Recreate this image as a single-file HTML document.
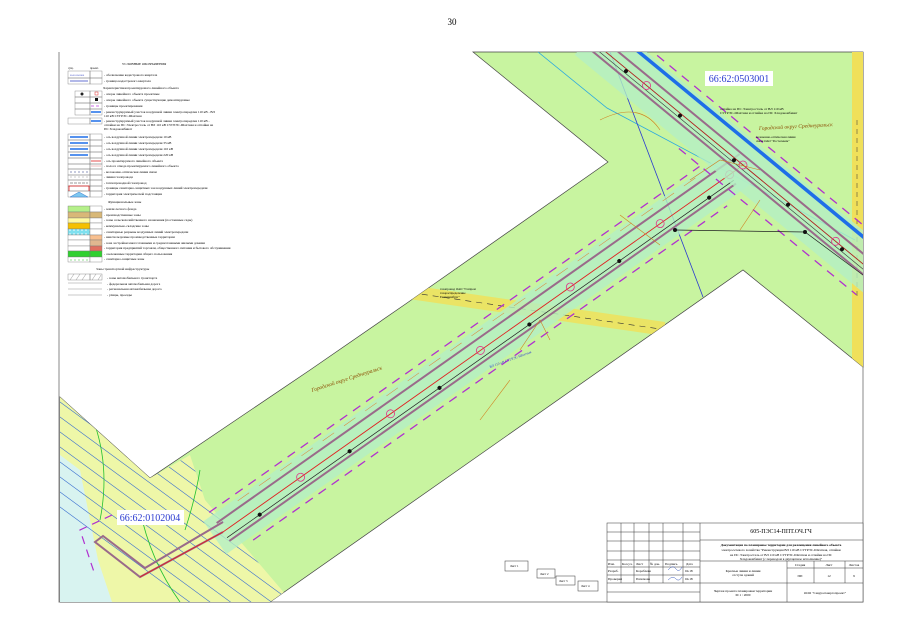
<!DOCTYPE html>
<html><head><meta charset="utf-8"><style>
html,body{margin:0;padding:0;background:#fff;width:905px;height:640px;overflow:hidden;}
svg{display:block;}
text{font-family:"Liberation Serif",serif;}
</style></head><body>
<svg width="905" height="640" viewBox="0 0 905 640" xmlns="http://www.w3.org/2000/svg">
<defs>
<clipPath id="g"><polygon points="473,52 863,52 863,367 743,270 270,602 60,602 60,397 150,478 310,370 407,303 608,162"/></clipPath>
<clipPath id="ll"><polygon points="60,397 150,478 190,455 205,500 292,602 60,602"/></clipPath>
<pattern id="dots" width="4" height="4" patternUnits="userSpaceOnUse"><rect width="4" height="4" fill="#7fe0ef"/><circle cx="2" cy="2" r="0.8" fill="#fff"/></pattern>
</defs>
<rect width="905" height="640" fill="#fff"/>
<text x="452" y="25" font-size="9" text-anchor="middle">30</text>

<polyline points="59,52 59,602 863,602 863,52" fill="none" stroke="#888" stroke-width="1"/>

<polygon points="473,52 863,52 863,367 743,270 270,602 60,602 60,397 150,478 310,370 407,303 608,162" fill="#c8f4a0" stroke="#444" stroke-width="0.7"/>
<g clip-path="url(#g)">
  <polygon points="60,397 150,478 190,455 205,500 292,602 60,602" fill="#eef7a8"/>
  <polygon points="60,455 80,470 98,560 112,602 60,602" fill="#d8f3f0"/>
  <g clip-path="url(#ll)" stroke="#3a6fd0" stroke-width="0.6" fill="none">
    <line x1="30" y1="380" x2="330" y2="600"/><line x1="30" y1="395" x2="330" y2="615"/>
    <line x1="30" y1="410" x2="330" y2="630"/><line x1="30" y1="425" x2="330" y2="645"/>
    <line x1="30" y1="440" x2="330" y2="660"/><line x1="30" y1="455" x2="330" y2="675"/>
    <line x1="30" y1="470" x2="330" y2="690"/><line x1="30" y1="365" x2="330" y2="585"/>
    <line x1="30" y1="350" x2="330" y2="570"/><line x1="30" y1="485" x2="330" y2="705"/>
  </g>
  <g stroke="#22c030" stroke-width="0.8" fill="none">
    <path d="M95,425 Q110,470 100,520"/><path d="M140,510 Q150,560 180,602"/><path d="M200,470 Q195,500 185,530"/>
  </g>
  <polygon points="395,283 665,322 665,336 395,297" fill="#f0e05a" opacity="0.85"/>
  <line x1="400" y1="291" x2="660" y2="329" stroke="#333" stroke-width="0.6" stroke-dasharray="6,5"/>
  <rect x="852" y="52" width="11" height="315" fill="#f0e05a"/>
  <line x1="857" y1="120" x2="857" y2="300" stroke="#333" stroke-width="0.5" stroke-dasharray="5,4"/>
  <polyline points="538,52 607,108 855,240" fill="none" stroke="#2aa8e0" stroke-width="0.8"/>
  <line x1="610" y1="52" x2="703" y2="297" stroke="#2a3ad0" stroke-width="0.8"/>
  <g transform="translate(223,532) rotate(-35.2)">
    <rect x="-10" y="-20" width="660" height="40" fill="#b4efc4" opacity="0.8"/>
    <line x1="0" y1="-11" x2="640" y2="-11" stroke="#9a6a8a" stroke-width="2"/>
    <line x1="0" y1="11" x2="620" y2="11" stroke="#9a6a8a" stroke-width="2"/>
    <line x1="0" y1="-24" x2="600" y2="-24" stroke="#b030d0" stroke-width="1.3" stroke-dasharray="9,7"/>
    <line x1="20" y1="24" x2="600" y2="24" stroke="#b030d0" stroke-width="1.3" stroke-dasharray="9,7"/>
    <line x1="0" y1="0" x2="640" y2="0" stroke="#e02020" stroke-width="0.9"/>
    <line x1="0" y1="7" x2="620" y2="7" stroke="#222" stroke-width="0.7"/>
    <line x1="30" y1="-17" x2="600" y2="-17" stroke="#e08030" stroke-width="0.5" stroke-dasharray="14,12"/>
    <g fill="#111"><circle cx="40" cy="7" r="2"/><circle cx="150" cy="7" r="2"/><circle cx="260" cy="7" r="2"/><circle cx="370" cy="7" r="2"/><circle cx="480" cy="7" r="2"/><circle cx="590" cy="7" r="2"/></g>
    <g fill="none" stroke="#e0308a" stroke-width="0.8"><circle cx="95" cy="0" r="4"/><circle cx="205" cy="0" r="4"/><circle cx="315" cy="0" r="4"/><circle cx="425" cy="0" r="4"/><circle cx="535" cy="0" r="4"/><circle cx="620" cy="0" r="4"/></g>
  </g>
  <polyline points="223,532 140,577 95,542 103,536 145,568 223,522" fill="none" stroke="#9a6a8a" stroke-width="2"/>
  <line x1="223" y1="532" x2="140" y2="577" stroke="#e02020" stroke-width="0.9"/>
  <polyline points="112,515 80,530 95,575" fill="none" stroke="#b030d0" stroke-width="1.2" stroke-dasharray="8,6"/>
  <g transform="translate(743,165) rotate(39.5)">
    <rect x="-200" y="-26" width="380" height="48" fill="#b4efc4" opacity="0.8"/>
    <line x1="-200" y1="-21" x2="170" y2="-21" stroke="#1e6ee8" stroke-width="3.5"/>
    <line x1="-200" y1="-8" x2="170" y2="-8" stroke="#9a6a8a" stroke-width="2"/>
    <line x1="-200" y1="8" x2="170" y2="8" stroke="#9a6a8a" stroke-width="2"/>
    <line x1="-200" y1="0" x2="170" y2="0" stroke="#b02020" stroke-width="0.9"/>
    <line x1="-200" y1="4" x2="170" y2="4" stroke="#333" stroke-width="0.6"/>
    <line x1="-200" y1="-30" x2="170" y2="-30" stroke="#b030d0" stroke-width="1.3" stroke-dasharray="9,7"/>
    <line x1="-60" y1="28" x2="170" y2="28" stroke="#b030d0" stroke-width="1.3" stroke-dasharray="9,7"/>
    <g fill="#111"><circle cx="-150" cy="2" r="2"/><circle cx="-80" cy="2" r="2"/><circle cx="-10" cy="2" r="2"/><circle cx="60" cy="2" r="2"/><circle cx="130" cy="2" r="2"/></g>
    <g fill="none" stroke="#e0308a" stroke-width="0.8"><circle cx="-125" cy="0" r="4"/><circle cx="0" cy="0" r="4"/><circle cx="120" cy="0" r="4"/></g>
  </g>
  <polyline points="675,230 805,232 863,275" fill="none" stroke="#222" stroke-width="0.7"/>
  <circle cx="675" cy="230" r="2" fill="#111"/><circle cx="805" cy="232" r="2" fill="#111"/>
  <g stroke="#d08020" stroke-width="0.6" fill="none">
    <path d="M600,120 Q640,100 660,130"/><path d="M690,180 l30,-20 l40,10"/><path d="M520,350 l20,-30 l10,20"/><path d="M480,420 l30,-40"/><path d="M620,215 l40,30"/><path d="M760,200 l-20,30"/>
  </g>
</g>
<rect x="705" y="71" width="68" height="15" fill="#fff"/>
<text x="739" y="82" font-size="10" fill="#2a3ad0" text-anchor="middle" font-family="Liberation Sans">66:62:0503001</text>
<rect x="117" y="510" width="67" height="15" fill="#fff"/>
<text x="150" y="521" font-size="10" fill="#2a3ad0" text-anchor="middle" font-family="Liberation Sans">66:62:0102004</text>
<text x="759" y="130" font-size="5.5" fill="#8a4a00" font-style="italic" transform="rotate(-3 759 130)">Городской округ Среднеуральск</text>
<text x="312" y="392" font-size="5.5" fill="#8a4a00" font-style="italic" transform="rotate(-18 312 392)">Городской округ Среднеуральск</text>
<text x="720" y="110" font-size="3.5">отпайка на ПС Электросталь от ВЛ 110 кВ</text>
<text x="720" y="114" font-size="3.5">СУГРЭС-Шахтная и отпайка на ПС Хладокомбинат</text>
<text x="756" y="138" font-size="3.2">волоконно-оптическая линия</text>
<text x="756" y="142" font-size="3.2">связи ОАО "Ростелеком"</text>
<text x="440" y="290" font-size="3.2">газопровод ОАО "Газпром</text>
<text x="440" y="294" font-size="3.2">газораспределение</text>
<text x="440" y="298" font-size="3.2">Екатеринбург"</text>
<text x="490" y="368" font-size="3.5" fill="#2a3ad0" transform="rotate(-20 490 368)">ВЛ 110 кВ СУГРЭС-Шахтная</text>

<g fill="#fff" stroke="#333" stroke-width="0.5" font-size="3">
<rect x="505" y="561" width="23" height="10"/><rect x="537" y="569" width="18" height="9"/><rect x="556" y="576" width="19" height="9"/><rect x="578" y="581" width="20" height="10"/>
</g>
<g font-size="3"><text x="510" y="567">Лист 1</text><text x="540" y="575">Лист 2</text><text x="559" y="582">Лист 3</text><text x="581" y="587">Лист 4</text></g>

<g fill="none" stroke="#333" stroke-width="0.5">
<rect x="607" y="523" width="256" height="79" fill="#fff"/>
<line x1="700" y1="523" x2="700" y2="602"/>
<line x1="621" y1="523" x2="621" y2="583"/><line x1="634" y1="523" x2="634" y2="583"/>
<line x1="649" y1="523" x2="649" y2="583"/><line x1="663" y1="523" x2="663" y2="583"/>
<line x1="683" y1="523" x2="683" y2="583"/>
<line x1="607" y1="532" x2="700" y2="532"/><line x1="607" y1="541" x2="700" y2="541"/>
<line x1="607" y1="551" x2="700" y2="551"/><line x1="607" y1="560" x2="700" y2="560"/>
<line x1="607" y1="567" x2="700" y2="567"/><line x1="607" y1="575" x2="700" y2="575"/>
<line x1="607" y1="583" x2="863" y2="583"/><line x1="607" y1="592" x2="700" y2="592"/>
<line x1="700" y1="540" x2="863" y2="540"/><line x1="700" y1="561" x2="863" y2="561"/>
<line x1="787" y1="561" x2="787" y2="602"/><line x1="814" y1="561" x2="814" y2="583"/><line x1="845" y1="561" x2="845" y2="583"/>
<line x1="787" y1="568" x2="863" y2="568"/>
</g>
<g font-size="3.4">
<text x="781" y="533" font-size="6" text-anchor="middle">605-ПЭС14-ППТ.ОЧ.ГЧ</text>
<text x="781" y="546" text-anchor="middle" font-weight="bold">Документация по планировке территории для размещения линейного объекта</text>
<text x="781" y="551" text-anchor="middle">электросетевого хозяйства "Реконструкция ВЛ 110 кВ СУГРЭС-Шахтная, отпайки</text>
<text x="781" y="556" text-anchor="middle">на ПС Электросталь от ВЛ 110 кВ СУГРЭС-Шахтная и отпайки на ПС</text>
<text x="781" y="560" text-anchor="middle">Хладокомбинат (с переводом в двухцепное исполнение)"</text>
<text x="608" y="565">Изм.</text><text x="622" y="565">Кол.уч.</text><text x="636" y="565">Лист</text><text x="650" y="565">№ док.</text><text x="665" y="565">Подпись</text><text x="686" y="565">Дата</text>
<text x="608" y="572">Разраб.</text><text x="636" y="572">Кораблева</text><text x="685" y="572">04.18</text>
<text x="608" y="580">Проверил</text><text x="636" y="580">Пахомова</text><text x="685" y="580">04.18</text>
<text x="743" y="572" text-anchor="middle">Красные линии и линии</text><text x="743" y="576" text-anchor="middle">отступа зданий</text>
<text x="800" y="566" text-anchor="middle">Стадия</text><text x="829" y="566" text-anchor="middle">Лист</text><text x="854" y="566" text-anchor="middle">Листов</text>
<text x="800" y="577" text-anchor="middle">ПП</text><text x="829" y="577" text-anchor="middle">12</text><text x="854" y="577" text-anchor="middle">9</text>
<text x="743" y="592" text-anchor="middle">Чертеж проекта планировки территории</text><text x="743" y="596" text-anchor="middle">М 1 : 2000</text>
<text x="825" y="594" text-anchor="middle">ООО "Севуралэнергопроект"</text>
</g>
<path d="M668,570 q5,-6 8,-1 q3,4 6,-2 M668,580 q5,-5 8,-1 q3,3 6,-2" stroke="#4060c0" stroke-width="0.5" fill="none"/>

<g font-size="3.4">
<text x="122" y="65">УСЛОВНЫЕ ОБОЗНАЧЕНИЯ</text>
<text x="68" y="69" font-size="2.8">сущ.</text><text x="90" y="69" font-size="2.8">проект.</text>
<g fill="none" stroke="#777" stroke-width="0.4">
<rect x="68" y="71" width="22" height="7"/><rect x="90" y="71" width="12" height="7"/>
<rect x="68" y="78" width="22" height="6"/><rect x="90" y="78" width="12" height="6"/>
</g>
<text x="70" y="76" font-size="2.4" fill="#3040c0">66:62:0503001</text>
<line x1="70" y1="81" x2="88" y2="81" stroke="#3040c0" stroke-width="0.8"/>
<text x="104" y="76">- обозначение кадастрового квартала</text>
<text x="104" y="82">- граница кадастрового квартала</text>
<text x="103" y="89">Характеристики проектируемого линейного объекта</text>
<g fill="none" stroke="#777" stroke-width="0.4">
<rect x="75" y="91" width="15" height="6"/><rect x="90" y="91" width="12" height="6"/>
<rect x="75" y="97" width="15" height="6"/><rect x="90" y="97" width="12" height="6"/>
<rect x="75" y="103" width="15" height="6"/><rect x="90" y="103" width="12" height="6"/>
<rect x="75" y="109" width="15" height="6"/><rect x="90" y="109" width="12" height="6"/>
<rect x="68" y="118" width="22" height="6"/><rect x="90" y="118" width="12" height="6"/>
</g>
<circle cx="82" cy="94" r="1.5" fill="#222"/><rect x="95" y="92" width="3" height="3" fill="none" stroke="#e03030" stroke-width="0.5"/>
<rect x="95" y="98" width="3" height="3" fill="#111"/>
<line x1="91" y1="106" x2="101" y2="106" stroke="#c040e0" stroke-width="0.8" stroke-dasharray="3,2"/>
<line x1="91" y1="112" x2="101" y2="112" stroke="#1e6ee8" stroke-width="1.5"/>
<line x1="91" y1="121" x2="101" y2="121" stroke="#1e6ee8" stroke-width="1.5"/>
<text x="104" y="95">- опоры линейного объекта проектные</text>
<text x="104" y="101">- опоры линейного объекта существующие демонтируемые</text>
<text x="104" y="107">- границы проектирования</text>
<text x="104" y="113">- реконструируемый участок воздушной линии электропередачи 110 кВ - ВЛ</text>
<text x="104" y="117">110 кВ СУГРЭС-Шахтная</text>
<text x="104" y="122">- реконструируемый участок воздушной линии электропередачи 110 кВ -</text>
<text x="104" y="126">отпайки на ПС Электросталь от ВЛ 110 кВ СУГРЭС-Шахтная и отпайки на</text>
<text x="104" y="130">ПС Хладокомбинат</text>
<g fill="none" stroke="#777" stroke-width="0.4">
<rect x="68" y="134" width="22" height="6"/><rect x="90" y="134" width="12" height="6"/>
<rect x="68" y="140" width="22" height="6"/><rect x="90" y="140" width="12" height="6"/>
<rect x="68" y="146" width="22" height="6"/><rect x="90" y="146" width="12" height="6"/>
<rect x="68" y="152" width="22" height="6"/><rect x="90" y="152" width="12" height="6"/>
<rect x="68" y="158" width="22" height="6"/><rect x="90" y="158" width="12" height="6"/>
<rect x="68" y="164" width="22" height="5"/><rect x="90" y="164" width="12" height="5"/>
<rect x="68" y="169" width="22" height="6"/><rect x="90" y="169" width="12" height="6"/>
<rect x="68" y="175" width="22" height="5"/><rect x="90" y="175" width="12" height="5"/>
<rect x="68" y="180" width="22" height="6"/><rect x="90" y="180" width="12" height="6"/>
<rect x="68" y="186" width="22" height="5"/><rect x="90" y="186" width="12" height="5"/>
<rect x="68" y="191" width="22" height="6"/><rect x="90" y="191" width="12" height="6"/>
</g>
<g stroke="#1e6ee8" stroke-width="1.4"><line x1="70" y1="137" x2="88" y2="137"/><line x1="70" y1="143" x2="88" y2="143"/><line x1="70" y1="149" x2="88" y2="149"/><line x1="70" y1="155" x2="88" y2="155"/></g>
<line x1="91" y1="161" x2="101" y2="161" stroke="#e02020" stroke-width="0.8"/>
<line x1="91" y1="166" x2="101" y2="166" stroke="#e08080" stroke-width="0.5"/>
<line x1="70" y1="172" x2="88" y2="172" stroke="#203080" stroke-width="0.6" stroke-dasharray="2,2"/>
<line x1="70" y1="177" x2="88" y2="177" stroke="#999" stroke-width="0.5" stroke-dasharray="2,2"/>
<line x1="70" y1="183" x2="88" y2="183" stroke="#333" stroke-width="0.5" stroke-dasharray="3,1"/>
<polyline points="69,191 69,186 89,186 89,191" fill="none" stroke="#e02020" stroke-width="0.8"/>
<polygon points="70,197 79,192 88,197" fill="#7ec8f0" stroke="#2060c0" stroke-width="0.4"/>
<text x="104" y="138">- ось воздушной линии электропередачи 10 кВ</text>
<text x="104" y="144">- ось воздушной линии электропередачи 35 кВ</text>
<text x="104" y="150">- ось воздушной линии электропередачи 110 кВ</text>
<text x="104" y="156">- ось воздушной линии электропередачи 220 кВ</text>
<text x="104" y="162">- ось проектируемого линейного объекта</text>
<text x="104" y="167">- полоса отвода проектируемого линейного объекта</text>
<text x="104" y="173">- волоконно-оптическая линия связи</text>
<text x="104" y="178">- линия газопровода</text>
<text x="104" y="184">- теплопроводной газопровод</text>
<text x="104" y="189">- границы санитарно-защитных зон воздушных линий электропередачи</text>
<text x="104" y="195">- территория электрической подстанции</text>
<text x="108" y="203">Функциональные зоны</text>
<g stroke="#777" stroke-width="0.4">
<rect x="68" y="206" width="22" height="6" fill="#b5f08a"/><rect x="90" y="206" width="12" height="6" fill="#fff"/>
<rect x="68" y="212" width="22" height="6" fill="#d8b878"/><rect x="90" y="212" width="12" height="6" fill="#d8b878"/>
<rect x="68" y="218" width="22" height="5" fill="#fffaa0"/><rect x="90" y="218" width="12" height="5" fill="#fff"/>
<rect x="68" y="223" width="22" height="6" fill="#f5c000"/><rect x="90" y="223" width="12" height="6" fill="#fff"/>
<rect x="68" y="229" width="22" height="6" fill="url(#dots)"/><rect x="90" y="229" width="12" height="6" fill="#fff"/>
<rect x="68" y="235" width="22" height="5" fill="#fff"/><rect x="90" y="235" width="12" height="5" fill="#f8c090"/>
<rect x="68" y="240" width="22" height="6" fill="#fff"/><rect x="90" y="240" width="12" height="6" fill="#e0b890"/>
<rect x="68" y="246" width="22" height="5" fill="#fff"/><rect x="90" y="246" width="12" height="5" fill="#e07060"/>
<rect x="68" y="251" width="22" height="6" fill="#30d030"/><rect x="90" y="251" width="12" height="6" fill="#30d030"/>
<rect x="68" y="257" width="22" height="5" fill="#fff"/><rect x="90" y="257" width="12" height="5" fill="#fff"/>
</g>
<line x1="70" y1="260" x2="88" y2="260" stroke="#30c030" stroke-width="0.6" stroke-dasharray="2,2"/>
<text x="104" y="210">- земли лесного фонда</text>
<text x="104" y="216">- производственные зоны</text>
<text x="104" y="221">- зоны сельскохозяйственного назначения (постоянные сады)</text>
<text x="104" y="227">- коммунально-складские зоны</text>
<text x="104" y="233">- санитарные разрывы воздушных линий электропередачи</text>
<text x="104" y="238">- неиспользуемые производственные территории</text>
<text x="104" y="244">- зона застройки многоэтажными и среднеэтажными жилыми домами</text>
<text x="104" y="249">- территория предприятий торговли, общественного питания и бытового обслуживания</text>
<text x="104" y="255">- озелененные территории общего пользования</text>
<text x="104" y="260">- санитарно-защитные зоны</text>
<text x="96" y="270">Зоны транспортной инфраструктуры</text>
<g fill="none" stroke="#777" stroke-width="0.4">
<rect x="68" y="274" width="22" height="6"/><rect x="90" y="274" width="12" height="6"/>
<line x1="68" y1="283" x2="102" y2="283"/><line x1="68" y1="289" x2="102" y2="289"/><line x1="68" y1="295" x2="102" y2="295"/>
<path d="M70,280 l4,-6 M76,280 l4,-6 M82,280 l4,-6 M92,280 l4,-6 M98,280 l3,-5"/>
</g>
<text x="107" y="279">- зоны автомобильного транспорта</text>
<text x="107" y="285">- федеральная автомобильная дорога</text>
<text x="107" y="290">- региональная автомобильная дорога</text>
<text x="107" y="296">- улицы, проезды</text>
</g>
</svg>
</body></html>
